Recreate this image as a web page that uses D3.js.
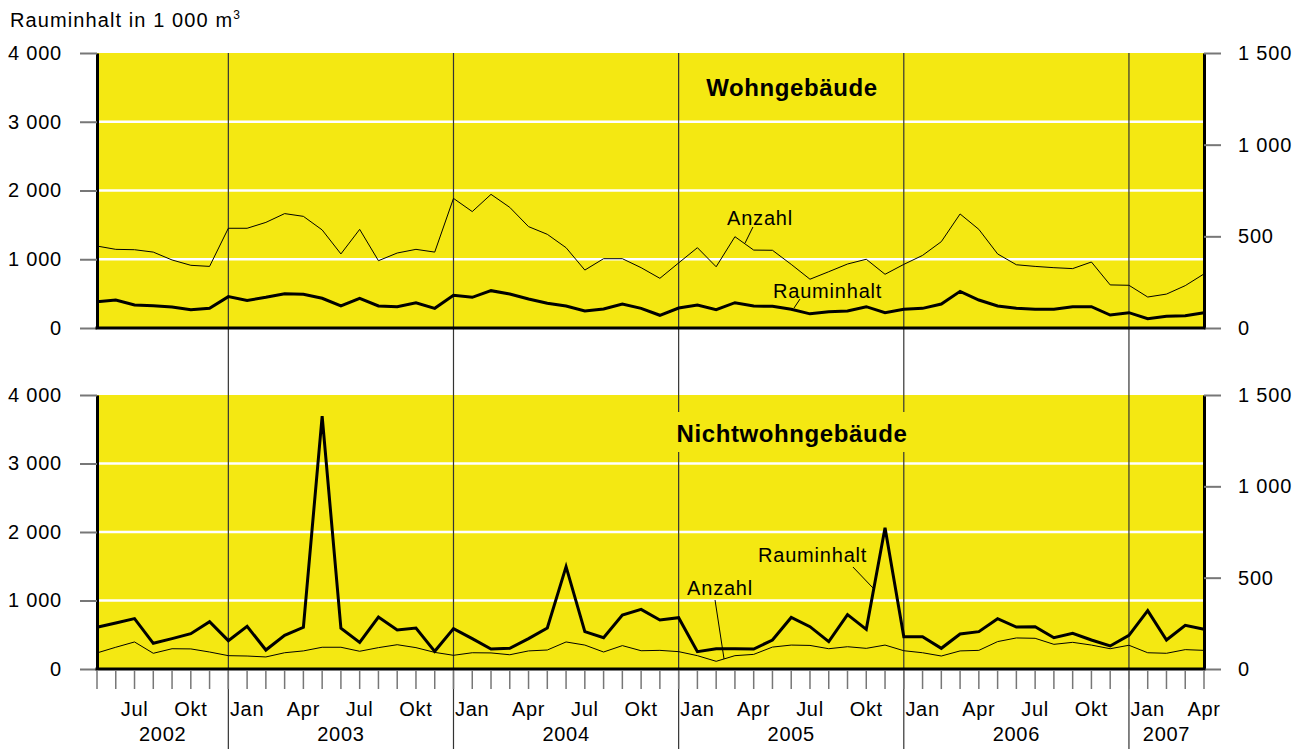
<!DOCTYPE html>
<html>
<head>
<meta charset="utf-8">
<script src="https://cdn.jsdelivr.net/npm/d3@7"></script>
<style>
body { margin: 0; background: #fff; }
text { font-family: "Liberation Sans", Arial, sans-serif; fill: #000; }
</style>
</head>
<body>
<svg id="chart" width="1308" height="749"></svg>
<script>
// months shown, May 2002 .. Apr 2007
var months = [
  "2002-05","2002-06","2002-07","2002-08","2002-09","2002-10","2002-11","2002-12",
  "2003-01","2003-02","2003-03","2003-04","2003-05","2003-06","2003-07","2003-08","2003-09","2003-10","2003-11","2003-12",
  "2004-01","2004-02","2004-03","2004-04","2004-05","2004-06","2004-07","2004-08","2004-09","2004-10","2004-11","2004-12",
  "2005-01","2005-02","2005-03","2005-04","2005-05","2005-06","2005-07","2005-08","2005-09","2005-10","2005-11","2005-12",
  "2006-01","2006-02","2006-03","2006-04","2006-05","2006-06","2006-07","2006-08","2006-09","2006-10","2006-11","2006-12",
  "2007-01","2007-02","2007-03","2007-04"
];

// Wohngebaeude: Rauminhalt (1000 m3, left axis) and Anzahl (right axis)
var wohnRaum = [383,407,335,325,305,267,286,456,402,446,499,490,432,320,432,320,310,368,286,475,
                446,543,495,422,359,320,247,276,349,286,185,291,335,267,368,320,315,272,206,237,
                247,310,223,272,286,349,533,407,320,286,272,272,310,310,189,223,136,170,179,223];
var wohnAnz  = [447,429,427,414,371,342,336,544,544,576,624,609,535,404,538,367,409,429,414,707,
                635,729,658,553,511,438,316,378,378,329,271,355,438,334,498,425,424,347,266,307,
                349,375,293,347,396,471,622,538,404,345,336,329,324,360,235,233,169,185,231,295];

// Nichtwohngebaeude
var nichtRaum = [609,672,735,375,443,516,691,414,623,277,491,609,3693,594,389,759,569,599,258,590,
                 443,292,302,443,599,1494,545,457,788,871,715,749,253,297,297,292,423,752,618,399,
                 793,579,2063,472,472,302,511,545,735,613,618,457,521,423,336,491,851,423,638,579];
var nichtAnz  = [88,119,148,86,111,110,93,73,71,66,89,99,119,119,97,117,133,117,91,75,
                 89,88,78,99,104,148,131,93,128,100,102,95,73,42,73,80,120,131,129,111,
                 122,113,131,100,89,71,99,102,150,170,168,135,146,131,111,130,89,86,106,102];

var leftTicks = [0, 1000, 2000, 3000, 4000];
var rightTicks = [0, 500, 1000, 1500];
var monthNames = { "01": "Jan", "04": "Apr", "07": "Jul", "10": "Okt" };

var svg = d3.select('#chart');
var yellow = '#f4e812';
var fmt = d3.formatLocale({ decimal: ",", thousands: " ", grouping: [3], currency: ["", "€"] }).format(",");

var x = d3.scaleLinear().domain([0, months.length - 1]).range([97, 1204]);

var panels = [
  { title: 'Wohngebäude', top: 53, bottom: 328, raum: wohnRaum, anz: wohnAnz, titleY: 96, box: false,
    notes: [
      { text: 'Anzahl', tx: 33.58, ty: 1498, from: [34.96, 1469], to: [34.54, 1236] },
      { text: 'Rauminhalt', tx: 36.03, ty: 436, from: [37.47, 422], to: [37.15, 291] }
    ] },
  { title: 'Nichtwohngebäude', top: 395, bottom: 669, raum: nichtRaum, anz: nichtAnz, titleY: 442, box: true,
    notes: [
      { text: 'Rauminhalt', tx: 35.23, ty: 1562, from: [40.29, 1489], to: [41.36, 1182] },
      { text: 'Anzahl', tx: 31.45, ty: 1080, from: [32.94, 1007], to: [33.42, 146] }
    ] }
];

panels.forEach(function (p) {
  p.yL = d3.scaleLinear().domain([0, 4000]).range([p.bottom, p.top]);
  p.yR = d3.scaleLinear().domain([0, 1500]).range([p.bottom, p.top]);

  svg.append('rect')
    .attr('x', x(0)).attr('y', p.top)
    .attr('width', x(months.length - 1) - x(0))
    .attr('height', p.bottom - p.top)
    .attr('fill', yellow);

  svg.selectAll(null)
    .data(leftTicks.filter(function (d) { return d > 0 && d < 4000; }))
    .enter().append('line')
    .attr('x1', x(0)).attr('x2', x(months.length - 1))
    .attr('y1', function (d) { return p.yL(d); })
    .attr('y2', function (d) { return p.yL(d); })
    .attr('stroke', '#fff').attr('stroke-width', 2.5);
});

// year separators (drawn at the December position, like the original)
var decIdx = [];
months.forEach(function (m, i) { if (m.slice(5) == '12') decIdx.push(i); });
svg.selectAll(null).data(decIdx).enter().append('line')
  .attr('x1', function (d) { return x(d); }).attr('x2', function (d) { return x(d); })
  .attr('y1', panels[0].top).attr('y2', 749)
  .attr('stroke', '#333').attr('stroke-width', 1.2);

panels.forEach(function (p) {
  if (p.box) {
    svg.append('rect')
      .attr('x', 672).attr('y', p.titleY - 30)
      .attr('width', 240).attr('height', 40)
      .attr('fill', yellow);
  }
  svg.append('text')
    .attr('x', 792).attr('y', p.titleY)
    .attr('text-anchor', 'middle')
    .style('font-size', '24px').style('font-weight', 'bold').style('letter-spacing', '0.6px')
    .text(p.title);

  var anzLine = d3.line().x(function (d, i) { return x(i); }).y(function (d) { return p.yR(d); });
  var raumLine = d3.line().x(function (d, i) { return x(i); }).y(function (d) { return p.yL(d); });

  svg.append('path').datum(p.anz).attr('d', anzLine)
    .attr('fill', 'none').attr('stroke', '#000').attr('stroke-width', 1);
  svg.append('path').datum(p.raum).attr('d', raumLine)
    .attr('fill', 'none').attr('stroke', '#000').attr('stroke-width', 3);

  // annotations
  p.notes.forEach(function (n) {
    svg.append('line')
      .attr('x1', x(n.from[0])).attr('y1', p.yL(n.from[1]))
      .attr('x2', x(n.to[0])).attr('y2', p.yL(n.to[1]))
      .attr('stroke', '#000').attr('stroke-width', 1);
    svg.append('text')
      .attr('x', x(n.tx)).attr('y', p.yL(n.ty))
      .style('font-size', '20px').style('letter-spacing', '0.8px')
      .text(n.text);
  });

  // left axis
  var gl = svg.append('g').attr('transform', 'translate(' + x(0) + ',0)')
    .call(d3.axisLeft(p.yL).tickValues(leftTicks).tickFormat(fmt).tickSize(17).tickSizeOuter(0).tickPadding(18));
  // right axis
  var gr = svg.append('g').attr('transform', 'translate(' + x(months.length - 1) + ',0)')
    .call(d3.axisRight(p.yR).tickValues(rightTicks).tickFormat(fmt).tickSize(17).tickSizeOuter(0).tickPadding(17));
  [gl, gr].forEach(function (g) {
    g.select('.domain').attr('stroke', '#000').attr('stroke-width', 3);
    g.selectAll('.tick line').attr('stroke', '#777').attr('stroke-width', 2);
    g.selectAll('.tick text').style('font-size', '20px').style('letter-spacing', '0.8px')
      .style('font-family', '"Liberation Sans", Arial, sans-serif').attr('fill', '#000');
  });

  // bottom line of panel
  svg.append('line')
    .attr('x1', x(0) - 1.5).attr('x2', x(months.length - 1) + 1.5)
    .attr('y1', p.bottom).attr('y2', p.bottom)
    .attr('stroke', '#000').attr('stroke-width', 3);
});

// month ticks and labels under the lower panel
var base = panels[1].bottom;
svg.selectAll(null).data(months).enter().append('line')
  .attr('x1', function (d, i) { return x(i); }).attr('x2', function (d, i) { return x(i); })
  .attr('y1', base + 1.5).attr('y2', base + 20)
  .attr('stroke', '#777').attr('stroke-width', 1.5);

svg.selectAll(null).data(months.filter(function (m) { return monthNames[m.slice(5)]; }))
  .enter().append('text')
  .attr('x', function (d) { return x(months.indexOf(d)); })
  .attr('y', 716)
  .attr('text-anchor', 'middle')
  .style('font-size', '20px').style('letter-spacing', '0.7px')
  .text(function (d) { return monthNames[d.slice(5)]; });

// year labels centred between separators
var years = [];
months.forEach(function (m, i) {
  var yr = m.slice(0, 4);
  var last = years[years.length - 1];
  if (!last || last.year != yr) years.push({ year: yr, first: i, last: i });
  else last.last = i;
});
svg.selectAll(null).data(years).enter().append('text')
  .attr('x', function (d) {
    var a = d.first == 0 ? x(0) : x(d.first - 1);
    var b = d.last == months.length - 1 ? x(d.last) : x(d.last);
    return (a + b) / 2;
  })
  .attr('y', 741)
  .attr('text-anchor', 'middle')
  .style('font-size', '20px').style('letter-spacing', '0.7px')
  .text(function (d) { return d.year; });

// axis title
var t = svg.append('text').attr('x', 10).attr('y', 27)
  .style('font-size', '20px').style('letter-spacing', '1.1px');
t.append('tspan').text('Rauminhalt in 1 000 m');
t.append('tspan').attr('dy', -8).style('font-size', '12px').text('3');
</script>
</body>
</html>
